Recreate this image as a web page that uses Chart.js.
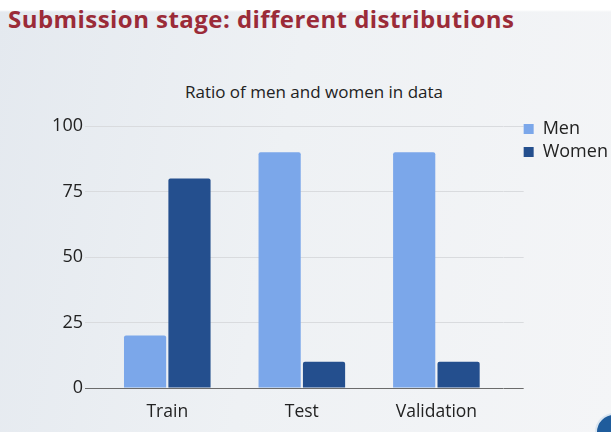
<!DOCTYPE html>
<html>
<head>
<meta charset="utf-8">
<script src="https://cdn.jsdelivr.net/npm/chart.js@4"></script>
<style>
  html, body { margin: 0; padding: 0; }
  body {
    width: 611px; height: 432px; overflow: hidden; position: relative;
    font-family: "Open Sans", sans-serif;
    background: linear-gradient(to bottom, #ffffff 0px, #ffffff 10px, rgba(255,255,255,0) 12px),
                linear-gradient(100deg, #e4e9ef 0%, #eef1f4 45%, #f4f5f7 100%);
  }
  .slideTitle {
    position: absolute; left: 8px; top: 3px; line-height: 1.362;
    font-size: 24px; font-weight: 700; color: #9b2b38; white-space: nowrap;
    letter-spacing: 0.45px;
  }
  .chartTitle {
    position: absolute; left: 0; top: 80px; width: 628px;
    text-align: center; font-size: 17px; color: #222;
  }
  .corner {
    position: absolute; left: 595px; top: 413px; width: 34px; height: 34px;
    border-radius: 50%; border: 2px solid #d8e4f0; background: #1f5c9c;
  }
  #barChart { position: absolute; left: 0; top: 0; }
</style>
</head>
<body>
<div class="slideTitle">Submission stage: different distributions</div>
<div class="chartTitle">Ratio of men and women in data</div>
<canvas id="barChart" width="611" height="432"></canvas>
<div class="corner"></div>
<script>
// Data
const categories = [`Train`, `Test`, `Validation`];
const menValues = [20, 90, 90];
const womenValues = [80, 10, 10];
const yTicks = [0, 25, 50, 75, 100];

const menColor = `#7ba7ea`;
const womenColor = `#244f8e`;
const gridColor = (ctx) => ctx.tick && ctx.tick.value === 0 ? `#6b6b6b` : `#d9dbde`;

const barChart = new Chart(document.getElementById(`barChart`), {
  type: `bar`,
  data: {
    labels: categories,
    datasets: [
      {
        label: `Men`,
        data: menValues,
        backgroundColor: menColor,
        borderRadius: 2,
        barPercentage: 0.95,
        categoryPercentage: 0.66
      },
      {
        label: `Women`,
        data: womenValues,
        backgroundColor: womenColor,
        borderRadius: 2,
        barPercentage: 0.95,
        categoryPercentage: 0.66
      }
    ]
  },
  options: {
    responsive: false,
    animation: false,
    layout: { padding: { left: 52, right: -1, top: 115, bottom: -5 } },
    plugins: {
      // empty title, only used as a spacer above the plot (the real title is the div above)
      title: { display: true, text: ``, padding: 0, font: { size: 10, lineHeight: `11px` } },
      tooltip: { enabled: false },
      legend: {
        position: `right`,
        align: `start`,
        labels: {
          boxWidth: 10,
          boxHeight: 10,
          padding: 5,
          color: `#222`,
          font: { family: `"Open Sans"`, size: 18 }
        }
      }
    },
    scales: {
      x: {
        grid: { display: false, drawTicks: false },
        border: { display: false },
        ticks: { color: `#222`, padding: 14, maxRotation: 0, minRotation: 0, font: { family: `"Open Sans"`, size: 17.5 } }
      },
      y: {
        min: yTicks[0],
        max: yTicks[yTicks.length - 1],
        afterBuildTicks: (scale) => { scale.ticks = yTicks.map(v => ({ value: v })); },
        afterFit: (scale) => { scale.width = 48; },
        border: { display: false },
        grid: { color: gridColor, tickColor: gridColor, tickLength: 15, lineWidth: 1 },
        ticks: { color: `#222`, padding: 2, font: { family: `"Open Sans"`, size: 18 } }
      },
      // right-hand tick marks only: extend the gridlines past the plot area
      y2: {
        position: `right`,
        min: yTicks[0],
        max: yTicks[yTicks.length - 1],
        afterBuildTicks: (scale) => { scale.ticks = yTicks.map(v => ({ value: v })); },
        afterFit: (scale) => { scale.width = 15; },
        border: { display: false },
        grid: { drawOnChartArea: false, color: gridColor, tickColor: gridColor, tickLength: 20 },
        ticks: { display: false }
      }
    }
  }
});
</script>
</body>
</html>
